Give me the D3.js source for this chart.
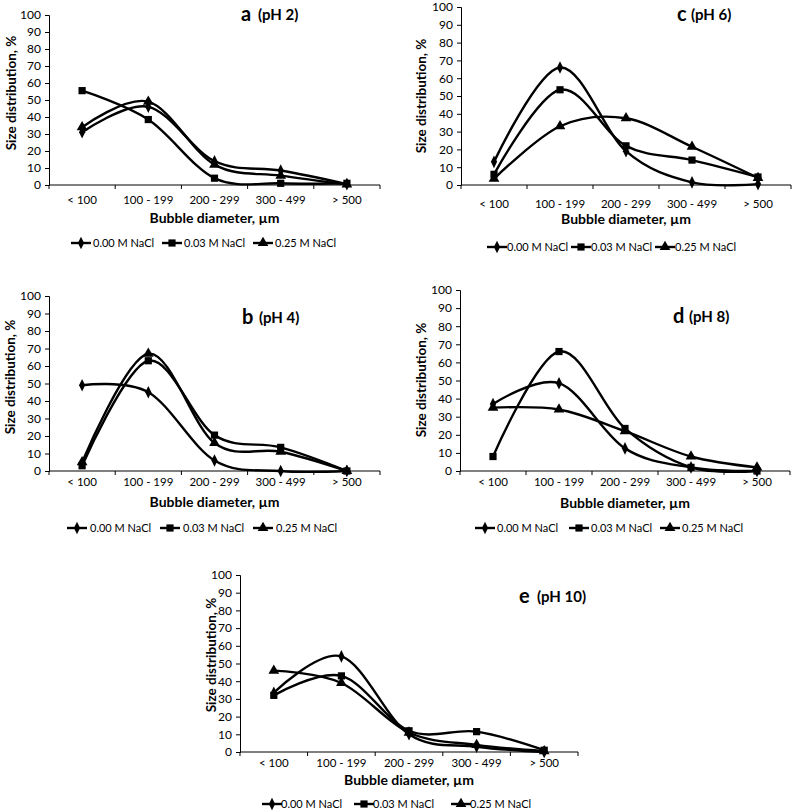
<!DOCTYPE html>
<html><head><meta charset="utf-8">
<script src="https://cdn.jsdelivr.net/npm/d3@7"></script>
<style>body{margin:0;background:#fff} svg text{font-family:Lato, "Open Sans", sans-serif; fill:#000}</style>
</head><body>
<svg id="chart" width="793" height="812"></svg>
<script>
// ---------- DATA ----------
const categories = ["< 100", "100 - 199", "200 - 299", "300 - 499", "> 500"];
const seriesNames = ["0.00 M NaCl", "0.03 M NaCl", "0.25 M NaCl"];
const yTicks = [0, 10, 20, 30, 40, 50, 60, 70, 80, 90, 100];

// pH 2 (a)
const pH2_000 = [31, 46, 14, 8.5, 0.5];
const pH2_003 = [55.5, 38.5, 4, 1, 1];
const pH2_025 = [34, 49, 12, 5.5, 0.3];
// pH 4 (b)
const pH4_000 = [49, 45, 6, 0, 0];
const pH4_003 = [3, 63, 20.5, 13.5, 0];
const pH4_025 = [5, 67, 16, 11, 0];
// pH 6 (c)
const pH6_000 = [13, 66, 19, 1.5, 0.5];
const pH6_003 = [6, 53.5, 22, 14, 4.5];
const pH6_025 = [3.5, 33, 37.5, 21.5, 4];
// pH 8 (d)
const pH8_000 = [37, 48.5, 12.5, 2, 0];
const pH8_003 = [8, 66, 23.5, 2, 0];
const pH8_025 = [35, 34, 22, 8, 2];
// pH 10 (e)
const pH10_000 = [33.5, 54, 10, 3, 0];
const pH10_003 = [32, 43, 12, 11.5, 1];
const pH10_025 = [46, 39, 11, 4, 0.5];

// ---------- LAYOUT ----------
const panels = [
  {letter:"a", ph:"(pH 2)", series:[pH2_000, pH2_003, pH2_025],
   x0:49, x1:380, yTop:15, yBot:185, tickLblY:200, xTitleY:218, legY:243, legX:[71,162,253], legOff:22,
   yLblX:11, yLblY:93, titleX:241, titleY:21, phOff:17},
  {letter:"c", ph:"(pH 6)", series:[pH6_000, pH6_003, pH6_025],
   x0:461, x1:791, yTop:7, yBot:185, tickLblY:204, xTitleY:219, legY:247, legX:[487,571,655], legOff:20,
   yLblX:421, yLblY:96, titleX:677, titleY:21, phOff:14},
  {letter:"b", ph:"(pH 4)", series:[pH4_000, pH4_003, pH4_025],
   x0:49, x1:380, yTop:296, yBot:471, tickLblY:482, xTitleY:502, legY:528, legX:[67,160,253], legOff:23,
   yLblX:10, yLblY:377, titleX:242, titleY:324, phOff:17},
  {letter:"d", ph:"(pH 8)", series:[pH8_000, pH8_003, pH8_025],
   x0:460, x1:790, yTop:290, yBot:471, tickLblY:482, xTitleY:503, legY:528, legX:[475,569,660], legOff:22,
   yLblX:421, yLblY:380, titleX:673, titleY:323, phOff:16},
  {letter:"e", ph:"(pH 10)", series:[pH10_000, pH10_003, pH10_025],
   x0:240, x1:578, yTop:575, yBot:752, tickLblY:763, xTitleY:780, legY:804, legX:[262,354,451], legOff:19,
   yLblX:211, yLblY:655, titleX:519, titleY:603, phOff:18}
];

const svg = d3.select("#chart");
const markerTypes = [d3.symbolDiamond, d3.symbolSquare, d3.symbolTriangle];
const markerSizes = [46, 52, 50];

function drawMarker(g, i, x, y) {
  g.append("path")
    .attr("d", d3.symbol().type(markerTypes[i]).size(markerSizes[i])())
    .attr("transform", i === 0 ? `translate(${x},${y}) scale(0.85,1)` : `translate(${x},${y})`)
    .attr("fill", "#000");
}

panels.forEach(p => {
  const g = svg.append("g");
  const x = d3.scaleBand().domain(categories).range([p.x0, p.x1]).padding(0);
  const y = d3.scaleLinear().domain([0, 100]).range([p.yBot, p.yTop]);

  // y axis
  const yAxis = d3.axisLeft(y).tickValues(yTicks).tickSize(4).tickPadding(4);
  const ya = g.append("g").attr("transform", `translate(${p.x0},0)`).call(yAxis);
  ya.select(".domain").attr("stroke", "#000").attr("stroke-width", 1);
  ya.selectAll(".tick line").attr("stroke", "#000");
  ya.selectAll(".tick text").attr("font-size", 12).attr("fill", "#000").attr("font-family", "Lato");

  // x axis (ticks at category boundaries)
  const xa = g.append("g").attr("transform", `translate(0,${p.yBot})`);
  xa.append("line").attr("x1", p.x0).attr("x2", p.x1).attr("stroke", "#000").attr("stroke-width", 1);
  const bounds = categories.map(c => x(c)).concat([x(categories[categories.length-1]) + x.bandwidth()]);
  xa.selectAll("line.tk").data(bounds).join("line").attr("class","tk")
    .attr("x1", d => d).attr("x2", d => d).attr("y1", 0).attr("y2", 4).attr("stroke", "#000");
  g.selectAll("text.cat").data(categories).join("text").attr("class","cat")
    .attr("x", d => x(d) + x.bandwidth()/2).attr("y", p.tickLblY).attr("dy", "0.35em")
    .attr("text-anchor", "middle").attr("font-size", 11.5).text(d => d);

  // axis titles
  g.append("text").attr("x", (p.x0 + p.x1)/2).attr("y", p.xTitleY).attr("dy", "0.35em").attr("text-anchor","middle")
    .attr("font-size", 14).attr("font-weight", "bold").text(p.letter === "c" ? "Bubble diameter,  µm" : "Bubble diameter, µm");
  g.append("text").attr("transform", `translate(${p.yLblX},${p.yLblY}) rotate(-90)`)
    .attr("text-anchor","middle").attr("dy", "0.35em")
    .attr("font-size", 13.5).attr("font-weight", "bold").text("Size distribution, %");

  // panel title
  g.append("text").attr("x", p.titleX).attr("y", p.titleY).attr("font-size", 20).attr("font-weight", "bold").text(p.letter);
  g.append("text").attr("x", p.titleX + p.phOff).attr("y", p.titleY - 1).attr("font-size", 15).attr("font-weight", "bold").text(p.ph);

  // series
  const line = d3.line().x((d, i) => x(categories[i]) + x.bandwidth()/2).y(d => y(d)).curve(d3.curveCardinal.tension(0));
  p.series.forEach((vals) => {
    g.append("path").datum(vals).attr("d", line).attr("fill","none").attr("stroke","#000").attr("stroke-width", 2.4);
  });
  p.series.forEach((vals, si) => {
    vals.forEach((v, i) => drawMarker(g, si, x(categories[i]) + x.bandwidth()/2, y(v)));
  });

  // legend
  seriesNames.forEach((name, si) => {
    const lx = p.legX[si];
    g.append("line").attr("x1", lx).attr("x2", lx + 20).attr("y1", p.legY).attr("y2", p.legY)
      .attr("stroke","#000").attr("stroke-width", 2.4);
    drawMarker(g, si, lx + 10, p.legY);
    g.append("text").attr("x", lx + p.legOff).attr("y", p.legY).attr("dy","0.35em")
      .attr("font-size", 11).text(name);
  });
});
</script>
</body></html>
